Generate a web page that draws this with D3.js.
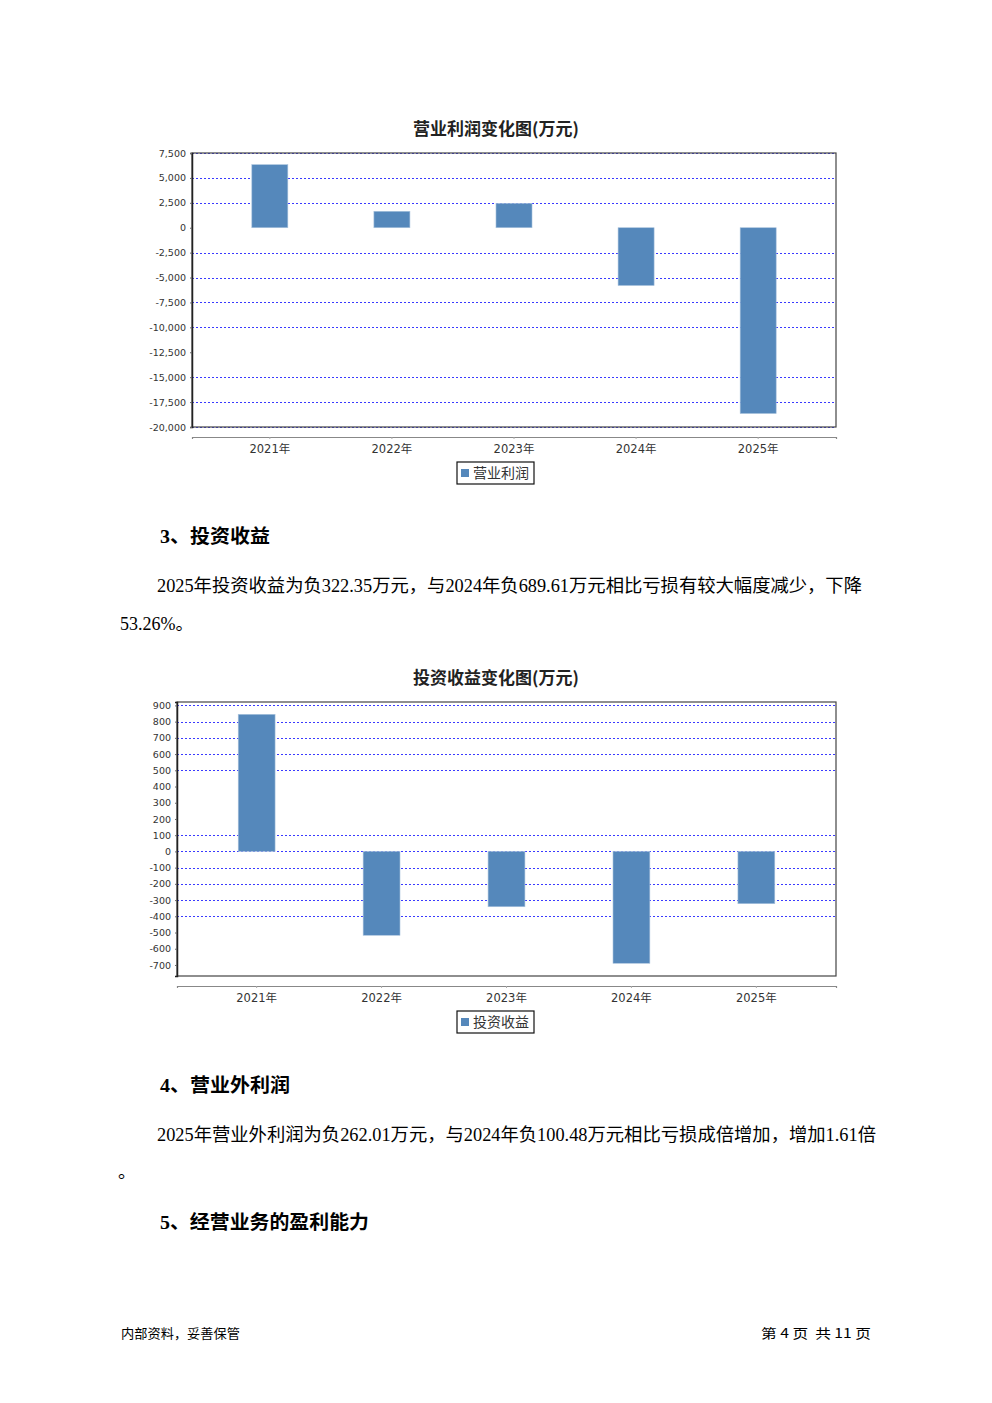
<!DOCTYPE html>
<html><head><meta charset="utf-8">
<script src="https://cdn.jsdelivr.net/npm/d3@7"></script>
<style>
html,body{margin:0;padding:0;background:#fff;}
svg{display:block;}
text{white-space:pre;}
</style></head>
<body>
<svg id="page" width="992" height="1403"></svg>
<script>
// ---- data ----
const years = ["2021年", "2022年", "2023年", "2024年", "2025年"];
const profitValues = [6330, 1650, 2450, -5800, -18650];
const profitTicks = [7500, 5000, 2500, 0, -2500, -5000, -7500, -10000, -12500, -15000, -17500, -20000];
const profitGrid = [7500, 5000, 2500, -2500, -5000, -7500, -10000, -15000, -17500, -20000];
const profitDomain = [-20000, 7500];
const investValues = [845, -517, -341, -689.61, -322.35];
const investTicks = [900, 800, 700, 600, 500, 400, 300, 200, 100, 0, -100, -200, -300, -400, -500, -600, -700];
const investGrid = [900, 800, 700, 600, 500, 100, 0, -100, -200, -300, -400];
const investDomain = [-768, 921];

const svg = d3.select("#page");
const BAR = "#5588bb";
const GRID = "#3a3aff";
const fmt = d3.formatLocale({ decimal: ".", thousands: ",", grouping: [3], currency: ["", ""], minus: "-" }).format(",");

function drawChart(o) {
  const g = svg.append("g");
  // title
  g.append("text").attr("x", o.titleX).attr("y", o.titleY).attr("text-anchor", "middle")
    .attr("font-family", "'Noto Sans CJK SC', sans-serif").attr("font-weight", "bold")
    .attr("font-size", 17).attr("fill", "#222").text(o.title);

  const x = d3.scaleBand().domain(o.cats).range([o.left, o.right]).paddingInner(0.705).paddingOuter(0.49);
  const y = d3.scaleLinear().domain(o.domain).range([o.bottom, o.top]);

  // gridlines
  g.append("g").selectAll("line").data(o.grid).join("line")
    .attr("x1", o.left).attr("x2", o.right)
    .attr("y1", d => Math.round(y(d)) + 0.5).attr("y2", d => Math.round(y(d)) + 0.5)
    .attr("stroke", GRID).attr("stroke-width", 1).attr("stroke-dasharray", "2,2");

  // bars
  g.append("g").selectAll("rect").data(o.values).join("rect")
    .attr("x", (d, i) => x(o.cats[i]))
    .attr("width", x.bandwidth())
    .attr("y", d => y(Math.max(0, d)))
    .attr("height", d => Math.abs(y(d) - y(0)))
    .attr("fill", BAR).attr("stroke", "#a9c3dd").attr("stroke-width", 0.6);

  // frame
  g.append("rect").attr("x", o.left).attr("y", o.top).attr("width", o.right - o.left)
    .attr("height", o.bottom - o.top).attr("fill", "none").attr("stroke", "#444").attr("stroke-width", 1.2);

  // y axis
  const ya = d3.axisLeft(y).tickValues(o.ticks).tickFormat(fmt).tickSize(2).tickPadding(4);
  const yg = g.append("g").attr("transform", `translate(${o.left},0)`).call(ya);
  yg.select(".domain").attr("stroke", "#222").attr("stroke-width", 1.5);
  yg.selectAll(".tick line").attr("stroke", "#666");
  yg.selectAll("text").attr("font-family", "'DejaVu Sans', sans-serif").attr("font-size", 9.5).attr("fill", "#333");

  // x axis
  const xa = d3.axisBottom(x).tickSize(2).tickPadding(6);
  const xg = g.append("g").attr("transform", `translate(0,${o.xAxisY})`).call(xa);
  xg.select(".domain").attr("stroke", "#888").attr("stroke-width", 1.2);
  xg.selectAll(".tick line").attr("stroke", "#aaa");
  xg.selectAll("text").attr("font-family", "'DejaVu Sans', 'Noto Sans CJK SC', sans-serif").attr("font-size", 11.5).attr("fill", "#333");

  // legend
  const lg = g.append("g");
  lg.append("rect").attr("x", o.legX).attr("y", o.legY).attr("width", 77).attr("height", 22)
    .attr("fill", "#fff").attr("stroke", "#111").attr("stroke-width", 1.2);
  lg.append("rect").attr("x", o.legX + 4).attr("y", o.legY + 7).attr("width", 8).attr("height", 8).attr("fill", BAR);
  lg.append("text").attr("x", o.legX + 16).attr("y", o.legY + 16)
    .attr("font-family", "'Noto Sans CJK SC', sans-serif").attr("font-size", 14).attr("fill", "#333").text(o.legend);
}

drawChart({
  title: "营业利润变化图(万元)", titleX: 496, titleY: 135,
  cats: years, values: profitValues, ticks: profitTicks, grid: profitGrid, domain: profitDomain,
  left: 192, right: 836, top: 153, bottom: 427, xAxisY: 437,
  legX: 457, legY: 462, legend: "营业利润"
});
drawChart({
  title: "投资收益变化图(万元)", titleX: 496, titleY: 684,
  cats: years, values: investValues, ticks: investTicks, grid: investGrid, domain: investDomain,
  left: 177, right: 836, top: 702, bottom: 976, xAxisY: 986,
  legX: 457, legY: 1011, legend: "投资收益"
});

// ---- document text ----
const bodyFont = "'Liberation Serif', 'Noto Sans CJK SC', serif";
function txt(s, x, y, size, opts = {}) {
  const t = svg.append("text").attr("x", x).attr("y", y).attr("font-size", size)
    .attr("font-family", opts.family || bodyFont).attr("fill", "#000").text(s);
  if (opts.bold) t.attr("font-weight", "bold");
  if (opts.anchor) t.attr("text-anchor", opts.anchor);
  if (opts.len) t.attr("textLength", opts.len).attr("lengthAdjust", "spacingAndGlyphs");
  return t;
}
txt("3、投资收益", 160, 543, 19, { bold: true, len: 110 });
txt("2025年投资收益为负322.35万元，与2024年负689.61万元相比亏损有较大幅度减少，下降", 157, 592, 18, { len: 705 });
txt("53.26%。", 120, 630, 18);
txt("4、营业外利润", 160, 1092, 19, { bold: true, len: 130 });
txt("2025年营业外利润为负262.01万元，与2024年负100.48万元相比亏损成倍增加，增加1.61倍", 157, 1141, 18, { len: 719 });
txt("。", 118, 1178, 18);
txt("5、经营业务的盈利能力", 160, 1229, 19, { bold: true, len: 209 });
txt("内部资料，妥善保管", 121, 1338, 13, { family: "'Noto Sans CJK SC', sans-serif", len: 119 });
txt("第 4 页  共 11 页", 761, 1338, 13, { family: "'Noto Sans CJK SC', sans-serif", len: 110 });
</script>
</body></html>
